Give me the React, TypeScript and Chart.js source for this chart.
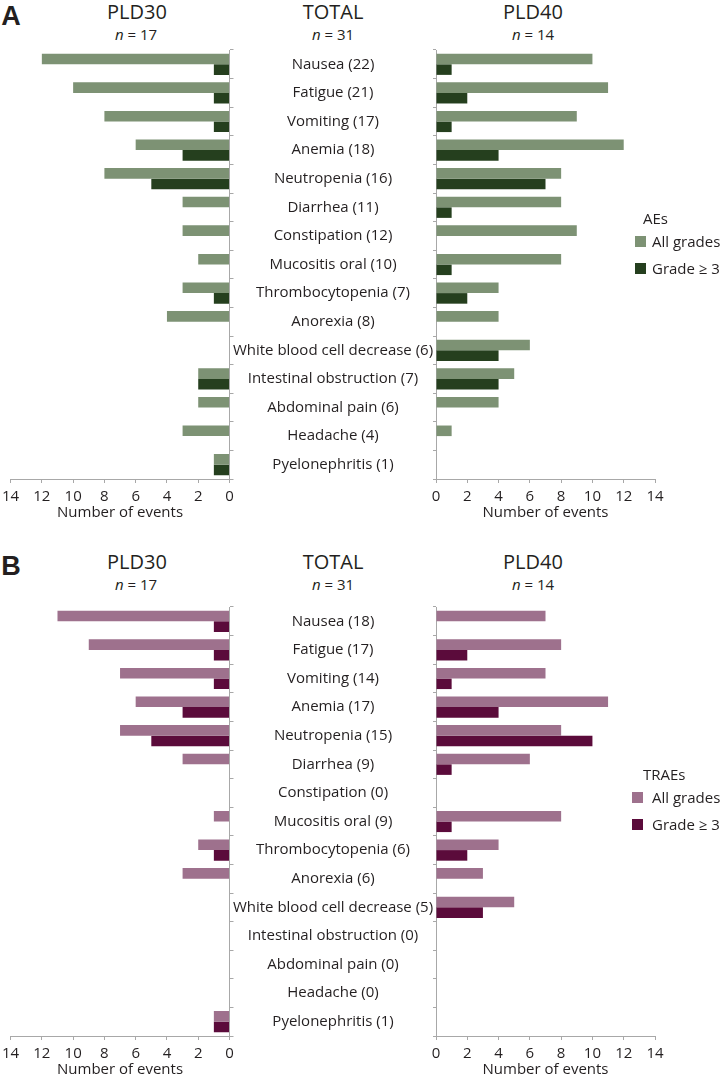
import React, { useEffect, useRef } from "react";
import { Chart, registerables } from "chart.js";

Chart.register(...registerables);

// ---------- DATA ----------
const aeCategories = [
  "Nausea (22)",
  "Fatigue (21)",
  "Vomiting (17)",
  "Anemia (18)",
  "Neutropenia (16)",
  "Diarrhea (11)",
  "Constipation (12)",
  "Mucositis oral (10)",
  "Thrombocytopenia (7)",
  "Anorexia (8)",
  "White blood cell decrease (6)",
  "Intestinal obstruction (7)",
  "Abdominal pain (6)",
  "Headache (4)",
  "Pyelonephritis (1)",
];
const aePld30All = [12, 10, 8, 6, 8, 3, 3, 2, 3, 4, 0, 2, 2, 3, 1];
const aePld30G3 = [1, 1, 1, 3, 5, 0, 0, 0, 1, 0, 0, 2, 0, 0, 1];
const aePld40All = [10, 11, 9, 12, 8, 8, 9, 8, 4, 4, 6, 5, 4, 1, 0];
const aePld40G3 = [1, 2, 1, 4, 7, 1, 0, 1, 2, 0, 4, 4, 0, 0, 0];

const traeCategories = [
  "Nausea (18)",
  "Fatigue (17)",
  "Vomiting (14)",
  "Anemia (17)",
  "Neutropenia (15)",
  "Diarrhea (9)",
  "Constipation (0)",
  "Mucositis oral (9)",
  "Thrombocytopenia (6)",
  "Anorexia (6)",
  "White blood cell decrease (5)",
  "Intestinal obstruction (0)",
  "Abdominal pain (0)",
  "Headache (0)",
  "Pyelonephritis (1)",
];
const traePld30All = [11, 9, 7, 6, 7, 3, 0, 1, 2, 3, 0, 0, 0, 0, 1];
const traePld30G3 = [1, 1, 1, 3, 5, 0, 0, 0, 1, 0, 0, 0, 0, 0, 1];
const traePld40All = [7, 8, 7, 11, 8, 6, 0, 8, 4, 3, 5, 0, 0, 0, 0];
const traePld40G3 = [0, 2, 1, 4, 10, 1, 0, 1, 2, 0, 3, 0, 0, 0, 0];

const seriesLabels = ["All grades", "Grade \u2265 3"];
const axisMin = 0;
const axisMax = 14;
const axisStep = 2;
const axisTitle = "Number of events";

// ---------- STYLE ----------
const FAMILY = '"Open Sans", sans-serif';
const TEXT = "#231f20";
const AXIS = "#a8a8a8";
const LABEL_SIZE = 15;

type PanelProps = {
  letter: string;
  headTop: number;
  plotTop: number;
  categories: string[];
  leftAll: number[];
  leftG3: number[];
  rightAll: number[];
  rightG3: number[];
  colorAll: string;
  colorG3: string;
  legendTitle: string;
  legendTop: number;
  legendSquareLeft: number;
};

const PLOT_H = 429;
const LEFT_AREA_L = 10;
const LEFT_AREA_R = 229.5;
const RIGHT_AREA_L = 436;
const RIGHT_AREA_R = 655;
const CENTER_X = 333;
const RIGHT_CANVAS_L = 232;
const X_AXIS_H = 43;
const CANVAS_H = 10 + PLOT_H + X_AXIS_H;

function measureWidest(labels: string[]): number {
  const c = document.createElement("canvas");
  const ctx = c.getContext("2d")!;
  ctx.font = `normal ${LABEL_SIZE}px ${FAMILY}`;
  let w = 0;
  for (const l of labels) w = Math.max(w, ctx.measureText(l).width);
  return w;
}

function xScale(reverse: boolean) {
  return {
    type: "linear" as const,
    reverse,
    min: axisMin,
    max: axisMax,
    ticks: {
      stepSize: axisStep,
      font: { family: FAMILY, size: LABEL_SIZE, lineHeight: 1.5 },
      color: TEXT,
      padding: 2,
      maxRotation: 0,
      autoSkip: false,
    },
    grid: { drawOnChartArea: false, drawTicks: true, tickLength: 4, color: AXIS },
    border: { color: AXIS, width: 1 },
    title: {
      display: true,
      text: axisTitle,
      font: { family: FAMILY, size: LABEL_SIZE },
      color: TEXT,
      padding: { top: 0, bottom: 0 },
    },
    afterFit: (s: any) => {
      s.height = X_AXIS_H;
    },
  };
}

function Panel(p: PanelProps) {
  const leftRef = useRef<HTMLCanvasElement>(null);
  const rightRef = useRef<HTMLCanvasElement>(null);

  useEffect(() => {
    const ds = (all: number[], g3: number[]) => [
      {
        label: seriesLabels[0],
        data: all,
        backgroundColor: p.colorAll,
        borderWidth: 0,
        categoryPercentage: 0.74,
        barPercentage: 1,
      },
      {
        label: seriesLabels[1],
        data: g3,
        backgroundColor: p.colorG3,
        borderWidth: 0,
        categoryPercentage: 0.74,
        barPercentage: 1,
      },
    ];

    const left = new Chart(leftRef.current!, {
      type: "bar",
      data: { labels: p.categories, datasets: ds(p.leftAll, p.leftG3) },
      options: {
        indexAxis: "y",
        responsive: false,
        animation: false,
        layout: {
          padding: { left: LEFT_AREA_L, right: 245 - LEFT_AREA_R - 4, top: 10, bottom: 0 },
        },
        plugins: { legend: { display: false }, tooltip: { enabled: false } },
        scales: {
          x: xScale(true),
          y: {
            position: "right",
            ticks: { display: false },
            grid: { drawOnChartArea: false, drawTicks: true, tickLength: 4, color: AXIS, offset: true },
            border: { color: AXIS, width: 1 },
            afterFit: (s: any) => {
              s.width = 4;
            },
          },
        },
      } as any,
    });

    const widest = measureWidest(p.categories);
    const tl = 3;
    const pad = RIGHT_AREA_L - CENTER_X - tl - widest / 2;
    const rightW = 721 - RIGHT_CANVAS_L;
    const right = new Chart(rightRef.current!, {
      type: "bar",
      data: { labels: p.categories, datasets: ds(p.rightAll, p.rightG3) },
      options: {
        indexAxis: "y",
        responsive: false,
        animation: false,
        layout: {
          padding: { left: 0, right: rightW - (RIGHT_AREA_R - RIGHT_CANVAS_L), top: 10, bottom: 0 },
        },
        plugins: { legend: { display: false }, tooltip: { enabled: false } },
        scales: {
          x: xScale(false),
          y: {
            position: "left",
            ticks: {
              font: { family: FAMILY, size: LABEL_SIZE },
              color: TEXT,
              crossAlign: "center",
              padding: pad,
              autoSkip: false,
            },
            grid: { drawOnChartArea: false, drawTicks: true, tickLength: tl, color: AXIS, offset: true },
            border: { color: AXIS, width: 1 },
            afterFit: (s: any) => {
              s.width = RIGHT_AREA_L - RIGHT_CANVAS_L;
            },
          },
        },
      } as any,
    });

    return () => {
      left.destroy();
      right.destroy();
    };
  }, []);

  const text = (
    content: React.ReactNode,
    cx: number,
    cy: number,
    size: number,
    extra: React.CSSProperties = {}
  ) => (
    <div
      style={{
        position: "absolute",
        left: cx,
        top: cy,
        transform: "translate(-50%, -50%)",
        whiteSpace: "nowrap",
        fontFamily: FAMILY,
        fontSize: size,
        color: TEXT,
        lineHeight: 1,
        ...extra,
      }}
    >
      {content}
    </div>
  );

  const h = p.headTop;
  return (
    <>
      {text(p.letter, 11, h + 16, 27, { fontFamily: '"Liberation Sans", Arial, sans-serif', fontWeight: 700 })}
      {text("PLD30", 137, h + 11.5, 20)}
      {text(<><i>n</i> = 17</>, 136, h + 34, LABEL_SIZE)}
      {text("TOTAL", 333, h + 11.5, 20)}
      {text(<><i>n</i> = 31</>, 333, h + 34, LABEL_SIZE)}
      {text("PLD40", 533, h + 11.5, 20)}
      {text(<><i>n</i> = 14</>, 533, h + 34, LABEL_SIZE)}

      <canvas
        ref={leftRef}
        width={245}
        height={CANVAS_H}
        style={{ position: "absolute", left: 0, top: p.plotTop - 10, width: 245, height: CANVAS_H }}
      />
      <canvas
        ref={rightRef}
        width={721 - RIGHT_CANVAS_L}
        height={CANVAS_H}
        style={{
          position: "absolute",
          left: RIGHT_CANVAS_L,
          top: p.plotTop - 10,
          width: 721 - RIGHT_CANVAS_L,
          height: CANVAS_H,
        }}
      />

      {/* legend */}
      <div
        style={{
          position: "absolute",
          left: 643,
          top: p.legendTop - 9,
          fontFamily: FAMILY,
          fontSize: LABEL_SIZE,
          color: TEXT,
          lineHeight: "18px",
          whiteSpace: "nowrap",
        }}
      >
        {p.legendTitle}
      </div>
      {[p.colorAll, p.colorG3].map((c, i) => (
        <React.Fragment key={i}>
          <div
            style={{
              position: "absolute",
              left: p.legendSquareLeft,
              top: p.legendTop + 23 + i * 27 - 5.5,
              width: 11,
              height: 11,
              background: c,
            }}
          />
          <div
            style={{
              position: "absolute",
              left: 652,
              top: p.legendTop + 23 + i * 27 - 9,
              fontFamily: FAMILY,
              fontSize: LABEL_SIZE,
              color: TEXT,
              lineHeight: "18px",
              whiteSpace: "nowrap",
            }}
          >
            {seriesLabels[i]}
          </div>
        </React.Fragment>
      ))}
    </>
  );
}

export default function App() {
  return (
    <div
      style={{
        position: "absolute",
        left: 0,
        top: 0,
        width: 721,
        height: 1082,
        background: "#ffffff",
        overflow: "hidden",
      }}
    >
      <Panel
        letter="A"
        headTop={0}
        plotTop={50}
        categories={aeCategories}
        leftAll={aePld30All}
        leftG3={aePld30G3}
        rightAll={aePld40All}
        rightG3={aePld40G3}
        colorAll="#7d9274"
        colorG3="#253f1e"
        legendTitle="AEs"
        legendTop={218}
        legendSquareLeft={635}
      />
      <Panel
        letter="B"
        headTop={550}
        plotTop={607}
        categories={traeCategories}
        leftAll={traePld30All}
        leftG3={traePld30G3}
        rightAll={traePld40All}
        rightG3={traePld40G3}
        colorAll="#9e718d"
        colorG3="#5b0b3b"
        legendTitle="TRAEs"
        legendTop={774}
        legendSquareLeft={632}
      />
    </div>
  );
}
